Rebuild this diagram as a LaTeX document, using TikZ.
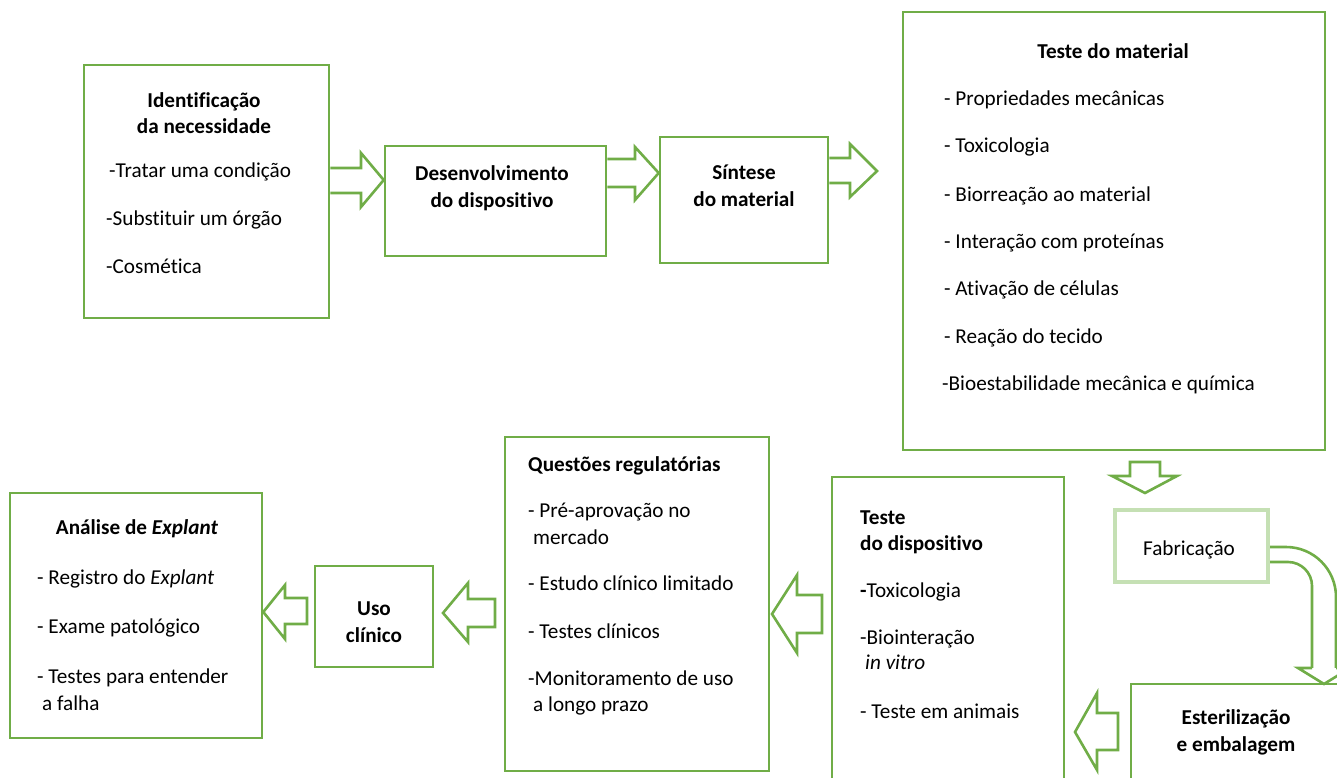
\documentclass[tikz,border=0pt]{standalone}
\usepackage{fontspec}
\setmainfont[Ligatures={NoCommon}]{Carlito}
\usetikzlibrary{fit}
\definecolor{gr}{RGB}{112,173,71}
\definecolor{lgr}{RGB}{197,224,180}
\newcommand{\fsz}{\fontsize{21.2}{25}\selectfont}
\tikzset{
  box/.style={draw=gr, line width=2.6pt, inner sep=0pt},
  lbox/.style={draw=lgr, line width=4pt, inner sep=0pt},
  arr/.style={draw=gr, line width=2.6pt, line join=miter, fill=white},
  txt/.style={anchor=base west, inner sep=0pt, font=\fsz},
  btxt/.style={anchor=base west, inner sep=0pt, font=\fsz\bfseries},
  ttl/.style={anchor=base, inner sep=0pt, font=\fsz\bfseries},
  ctr/.style={anchor=base, inner sep=0pt, font=\fsz},
}
\begin{document}
\begin{tikzpicture}[x=1pt,y=-1pt]
\useasboundingbox (0,0) rectangle (1337,778);
\clip (0,0) rectangle (1337,778);
% boxes
\node[box, fit={(84,65) (329,318)}] (ident) {};
\node[box, fit={(385,146) (606,256)}] (desenv) {};
\node[box, fit={(660,137) (828,263)}] (sintese) {};
\node[box, fit={(903,12) (1325,450)}] (tmat) {};
\node[lbox, fit={(1115,510) (1268,582)}] (fab) {};
\node[box, fit={(1131,684) (1420,820)}] (ester) {};
\node[box, fit={(832,477) (1064,820)}] (tdisp) {};
\node[box, fit={(505,437) (769,771)}] (quest) {};
\node[box, fit={(315,566) (433,667)}] (uso) {};
\node[box, fit={(10,493) (262,738)}] (anal) {};
% arrows
\draw[arr] (ident.east |- 0,168) -- (361,168) -- (361,153) -- (desenv.west |- 0,180) -- (361,207) -- (361,193) -- (ident.east |- 0,193);
\draw[arr] (desenv.east |- 0,159) -- (635,159) -- (635,147) -- (sintese.west |- 0,173) -- (635,200) -- (635,187) -- (desenv.east |- 0,187);
\draw[arr] (sintese.east |- 0,158) -- (850,158) -- (850,144) -- (877,171) -- (850,197) -- (850,183) -- (sintese.east |- 0,183);
\draw[arr] (1130,462) -- (1160,462) -- (1160,476) -- (1177,476) -- (1145,493) -- (1112,476) -- (1130,476) -- cycle;
\coordinate (ctip) at (1324,684);
\draw[arr, rounded corners=50pt] (fab.east |- 0,547) -- (1336,547) -- (1336,668);
\draw[arr, rounded corners=24pt] (fab.east |- 0,562) -- (1312,562) -- (1312,668);
\draw[arr] (1312,668) -- (1298,668) -- (ctip) -- (1350,668) -- (1336,668);
\draw[arr] (1118,713) -- (1097,713) -- (1097,693) -- (1075,732) -- (1097,770) -- (1097,750) -- (1118,750) -- cycle;
\draw[arr] (822,595) -- (797,595) -- (797,575) -- (772,614) -- (797,653) -- (797,633) -- (822,633) -- cycle;
\draw[arr] (495,599) -- (468,599) -- (468,583) -- (443,613) -- (468,642) -- (468,627) -- (495,627) -- cycle;
\draw[arr] (307,598) -- (285,598) -- (285,585) -- (anal.east |- 0,612) -- (285,639) -- (285,624) -- (307,624) -- cycle;
% texts: identificacao
\node[ttl] (i1) at (204,108) {Identificação};
\node[ttl] (i2) at (204,134) {da necessidade};
\node[txt] (i3) at (109,178) {-Tratar uma condição};
\node[txt] (i4) at (106,225) {-Substituir um órgão};
\node[txt] (i5) at (106,273) {-Cosmética};
% desenvolvimento
\node[ttl] (d1) at (492,180) {Desenvolvimento};
\node[ttl] (d2) at (492,207) {do dispositivo};
% sintese
\node[ttl] (s1) at (744,179) {Síntese};
\node[ttl] (s2) at (744,206) {do material};
% teste do material
\node[ttl] (m0) at (1113,59) {Teste do material};
\node[txt] (m1) at (944,106) {- Propriedades mecânicas};
\node[txt] (m2) at (944,153) {- Toxicologia};
\node[txt] (m3) at (944,201) {- Biorreação ao material};
\node[txt] (m4) at (944,248) {- Interação com proteínas};
\node[txt] (m5) at (944,295) {- Ativação de células};
\node[txt] (m6) at (944,343) {- Reação do tecido};
\node[txt] (m7) at (942,390) {-Bioestabilidade mecânica e química};
% fabricacao
\node[ctr] (f1) at (1189,555) {Fabricação};
% esterilizacao
\node[ttl] (e1) at (1236,724) {Esterilização};
\node[ttl] (e2) at (1236,751) {e embalagem};
% teste do dispositivo
\node[btxt] (t1) at (860,524) {Teste};
\node[btxt] (t2) at (860,550) {do dispositivo};
\node[txt] (t3) at (860,597) {\textbf{-}Toxicologia};
\node[txt] (t4) at (860,644) {-Biointeração};
\node[txt] (t5) at (865,669) {\textit{in vitro}};
\node[txt] (t6) at (860,718) {- Teste em animais};
% questoes
\node[btxt] (q0) at (528,471) {Questões regulatórias};
\node[txt] (q1) at (528,517) {- Pré-aprovação no};
\node[txt] (q2) at (533,544) {mercado};
\node[txt] (q3) at (528,590) {- Estudo clínico limitado};
\node[txt] (q4) at (528,638) {- Testes clínicos};
\node[txt] (q5) at (528,685) {-Monitoramento de uso};
\node[txt] (q6) at (533,711) {a longo prazo};
% uso clinico
\node[ttl] (u1) at (374,615) {Uso};
\node[ttl] (u2) at (374,642) {clínico};
% analise
\node[ttl] (a0) at (137,534) {Análise de \textit{Explant}};
\node[txt] (a1) at (37,584) {- Registro do \textit{Explant}};
\node[txt] (a2) at (37,633) {- Exame patológico};
\node[txt] (a3) at (37,683) {- Testes para entender};
\node[txt] (a4) at (42,710) {a falha};
\end{tikzpicture}
\end{document}
